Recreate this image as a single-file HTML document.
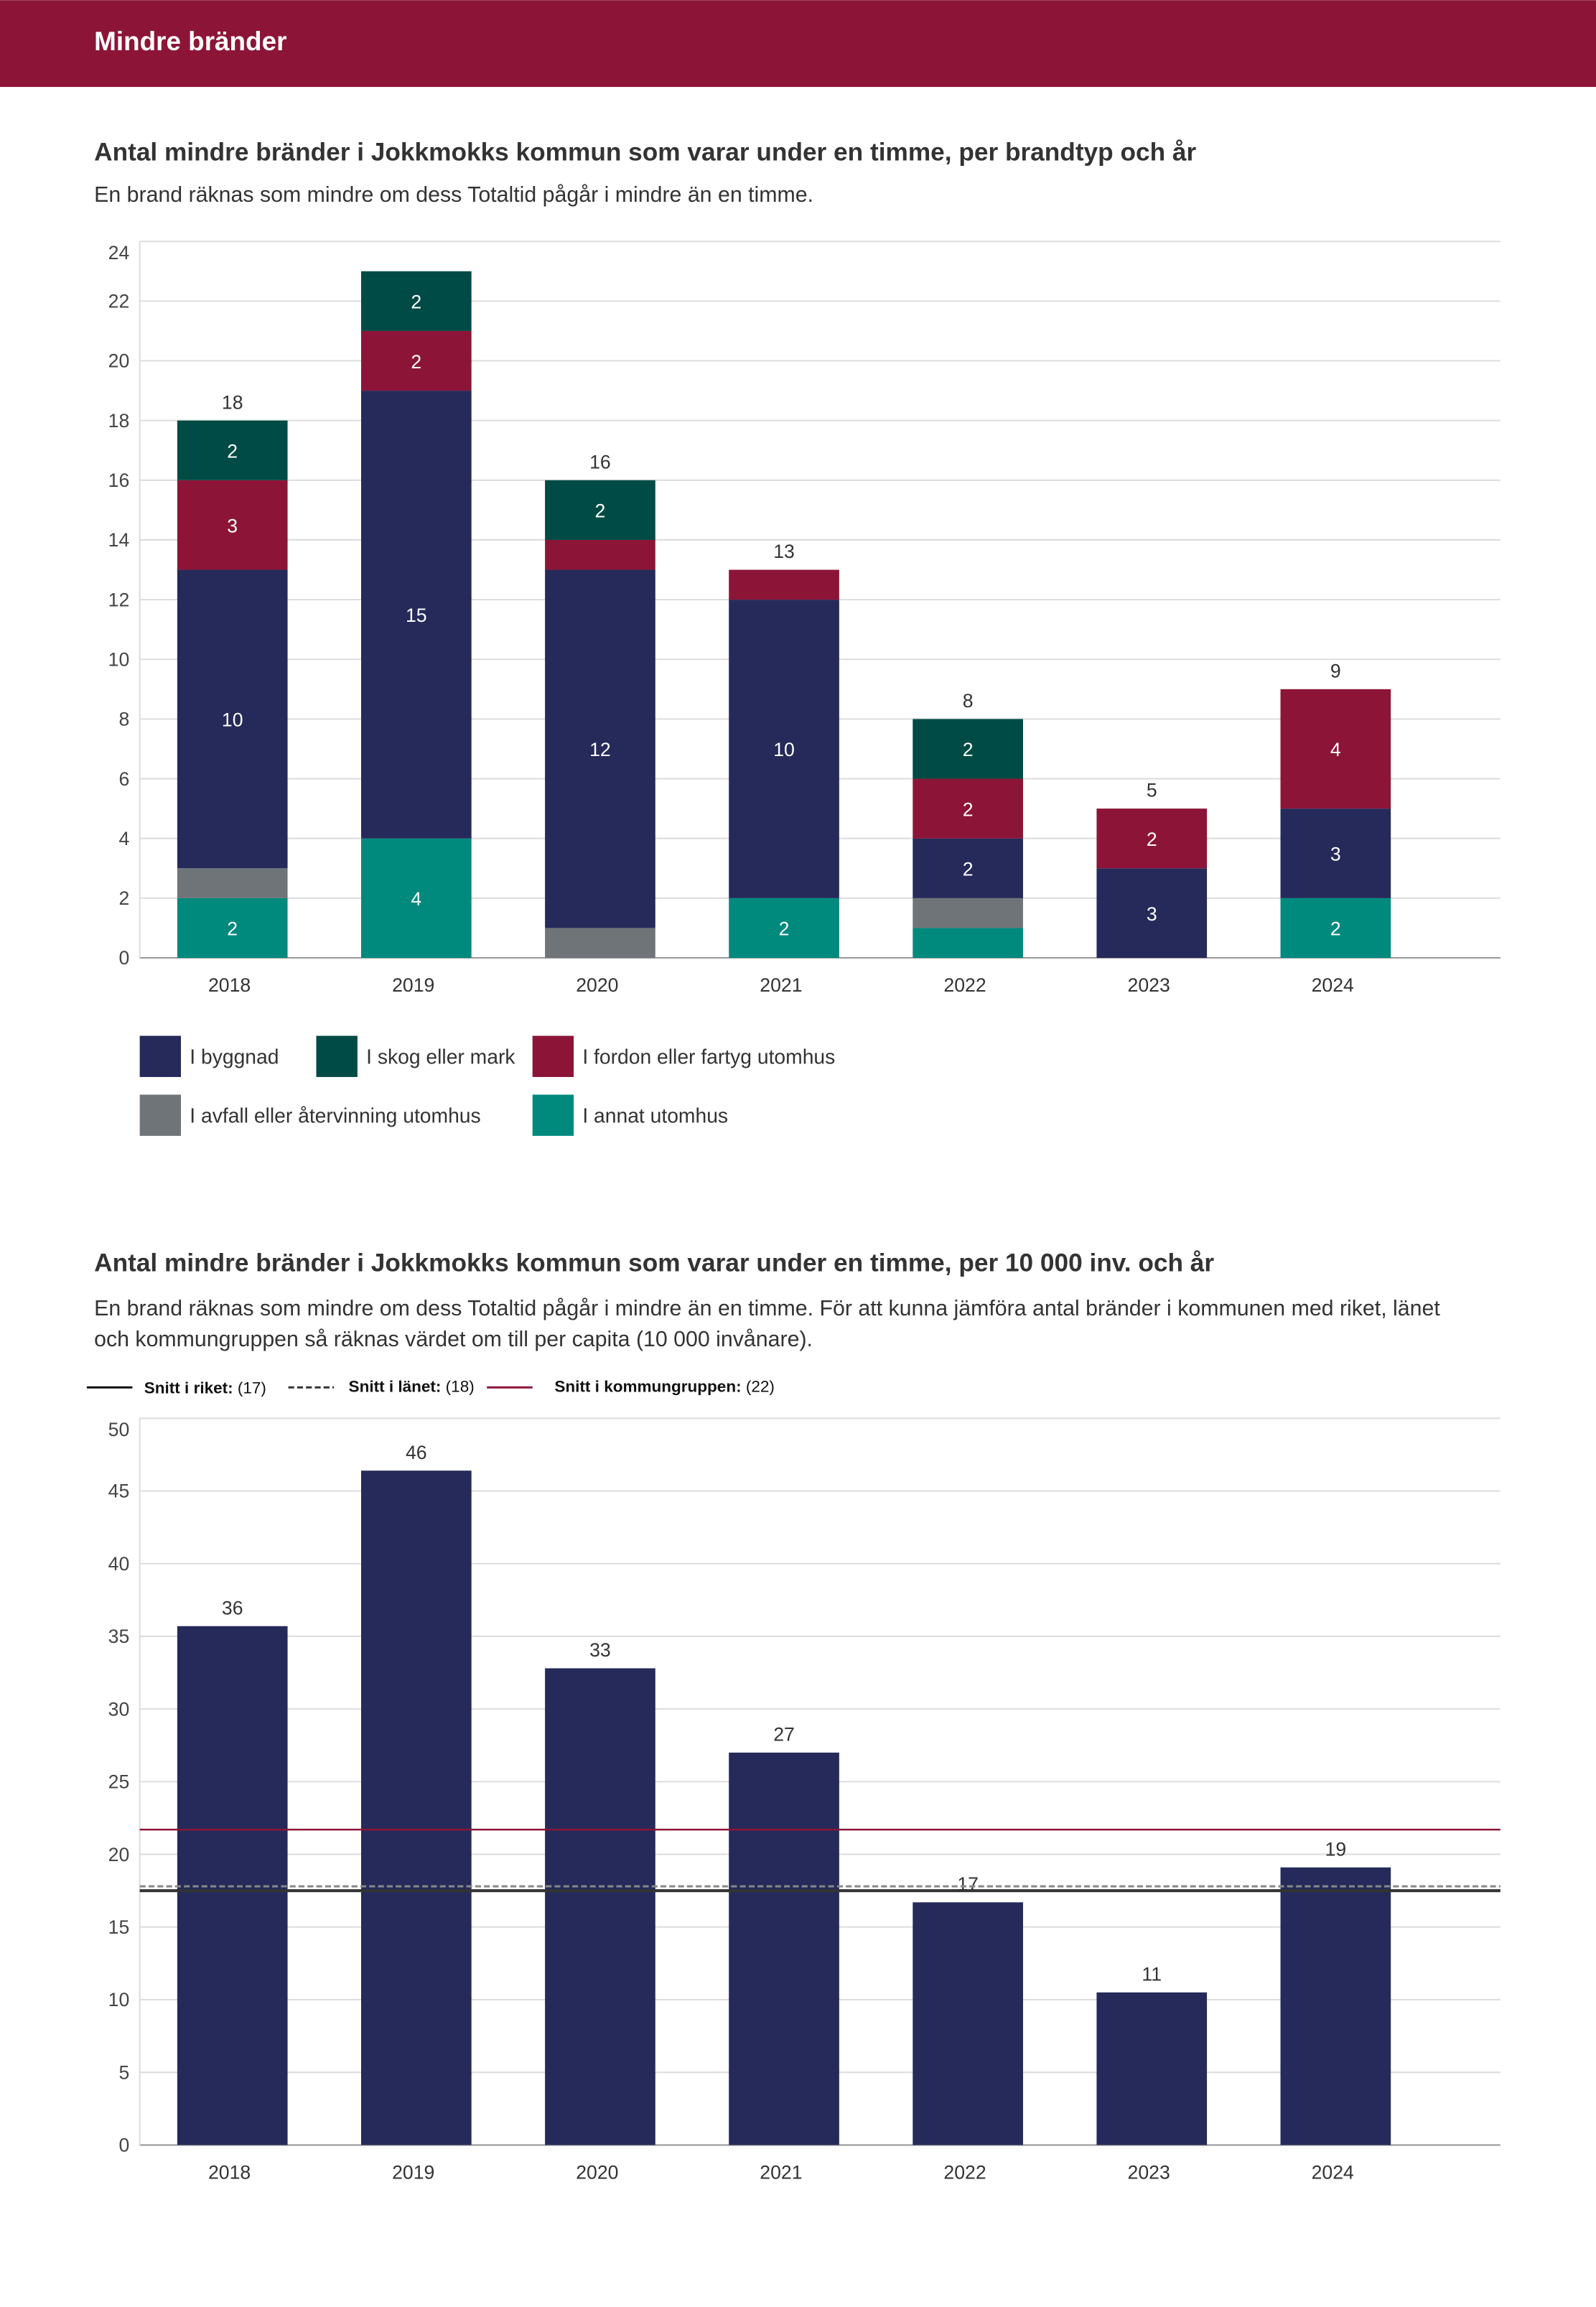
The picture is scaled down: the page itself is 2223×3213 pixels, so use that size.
<!DOCTYPE html>
<html><head><meta charset="utf-8"><style>
html,body{margin:0;padding:0;background:#fff}
svg{display:block;font-family:"Liberation Sans",sans-serif}
</style></head><body>
<svg id="s" width="2223" height="3213" viewBox="0 0 1085 1568" xmlns="http://www.w3.org/2000/svg">
<rect x="0" y="0" width="1085" height="59" fill="#8c1537"/>
<text x="64" y="34" fill="#fff" font-size="18" font-weight="bold">Mindre bränder</text>
<text x="64" y="109" fill="#333" font-size="17.2" font-weight="bold">Antal mindre bränder i Jokkmokks kommun som varar under en timme, per brandtyp och år</text>
<text x="64" y="137" fill="#333" font-size="14.8">En brand räknas som mindre om dess Totaltid pågår i mindre än en timme.</text>
<g id="c1"></g>
<g id="l1">
<rect x="95" y="704" width="28" height="28" fill="#252a5a"/><text x="129" y="723" font-size="13.8" fill="#333">I byggnad</text>
<rect x="215" y="704" width="28" height="28" fill="#004b45"/><text x="249" y="723" font-size="13.8" fill="#333">I skog eller mark</text>
<rect x="362" y="704" width="28" height="28" fill="#8c1537"/><text x="396" y="723" font-size="13.8" fill="#333">I fordon eller fartyg utomhus</text>
<rect x="95" y="744" width="28" height="28" fill="#6f7479"/><text x="129" y="763" font-size="13.8" fill="#333">I avfall eller återvinning utomhus</text>
<rect x="362" y="744" width="28" height="28" fill="#008a7e"/><text x="396" y="763" font-size="13.8" fill="#333">I annat utomhus</text>
</g>
<text x="64" y="864" fill="#333" font-size="17.2" font-weight="bold">Antal mindre bränder i Jokkmokks kommun som varar under en timme, per 10 000 inv. och år</text>
<text x="64" y="894" fill="#333" font-size="14.8">En brand räknas som mindre om dess Totaltid pågår i mindre än en timme. För att kunna jämföra antal bränder i kommunen med riket, länet</text>
<text x="64" y="915" fill="#333" font-size="14.8">och kommungruppen så räknas värdet om till per capita (10 000 invånare).</text>
<g>
<line x1="59" y1="943" x2="90" y2="943" stroke="#111" stroke-width="1.5"/>
<text x="98" y="947" font-size="11" font-weight="bold" fill="#111">Snitt i riket: <tspan font-weight="normal">(17)</tspan></text>
<line x1="196" y1="943" x2="227" y2="943" stroke="#333" stroke-width="1.5" stroke-dasharray="4,2"/>
<text x="237" y="946" font-size="11" font-weight="bold" fill="#111">Snitt i länet: <tspan font-weight="normal">(18)</tspan></text>
<line x1="331" y1="943" x2="362" y2="943" stroke="#8c1537" stroke-width="1.5"/>
<text x="377" y="946" font-size="11" font-weight="bold" fill="#111">Snitt i kommungruppen: <tspan font-weight="normal">(22)</tspan></text>
</g>
<g id="c2"></g>
</svg>
<script>
const years=["2018","2019","2020","2021","2022","2023","2024"];
const annat=[2,4,0,2,1,0,2];
const avfall=[1,0,1,0,1,0,0];
const byggnad=[10,15,12,10,2,3,3];
const fordon=[3,2,1,1,2,2,4];
const skog=[2,2,2,0,2,0,0];
const ticks1=[0,2,4,6,8,10,12,14,16,18,20,22,24];
const perCapita=[35.7,46.4,32.8,27.0,16.7,10.5,19.1];
const ticks2=[0,5,10,15,20,25,30,35,40,45,50];
const riket=17.5, lanet=17.8, kommungrupp=21.7;
const NS="http://www.w3.org/2000/svg";
function mk(p,tag,a){const e=document.createElementNS(NS,tag);for(const k in a)e.setAttribute(k,a[k]);p.appendChild(e);return e;}
const x0=95,x1=1020,bw=75;
const xc=i=>158+i*125;
// chart 1
const c1=document.getElementById('c1');
const y1=v=>651-v*(487/24);
ticks1.forEach((t,k)=>{
 const l=mk(c1,'line',{x1:x0,x2:x1,y1:y1(t),y2:y1(t),stroke:t==0?'#999':'#ddd','stroke-width':1});
 
 
 const off=k==ticks1.length-1?12:4.5;
 const tx=mk(c1,'text',{x:88,y:y1(t)+off,'text-anchor':'end','font-size':13,fill:'#444'});tx.textContent=t;
 
 
});
const ax=mk(c1,'line',{x1:x0,x2:x0,y1:164,y2:651,stroke:'#ddd'});


const series=[[annat,'#008a7e','annat'],[avfall,'#6f7479','avfall'],[byggnad,'#252a5a','byggnad'],[fordon,'#8c1537','fordon'],[skog,'#004b45','skog']];
years.forEach((yr,i)=>{
 let cum=0;
 series.forEach(([arr,col,nm])=>{
  const v=arr[i]; if(!v)return;
  const r=mk(c1,'rect',{x:xc(i)-bw/2,y:y1(cum+v),width:bw,height:y1(cum)-y1(cum+v),fill:col});
  
  
  if(v>=2){const t=mk(c1,'text',{x:xc(i),y:(y1(cum)+y1(cum+v))/2+5,'text-anchor':'middle','font-size':13,fill:'#fff'});t.textContent=v;
   
   }
  cum+=v;
 });
 if(cum<=22){const t=mk(c1,'text',{x:xc(i),y:y1(cum)-8,'text-anchor':'middle','font-size':13,fill:'#333'});t.textContent=cum;
  
  }
 const t=mk(c1,'text',{x:xc(i)-2,y:674,'text-anchor':'middle','font-size':13,fill:'#333'});t.textContent=yr;
 
 
});
// chart 2
const c2=document.getElementById('c2');
const y2=v=>1458-v*(494/50);
ticks2.forEach((t,k)=>{
 const l=mk(c2,'line',{x1:x0,x2:x1,y1:y2(t),y2:y2(t),stroke:t==0?'#999':'#ddd','stroke-width':1});
 
 
 const off=k==ticks2.length-1?12:4.5;
 const tx=mk(c2,'text',{x:88,y:y2(t)+off,'text-anchor':'end','font-size':13,fill:'#444'});tx.textContent=t;
 
 
});
const ax2=mk(c2,'line',{x1:x0,x2:x0,y1:964,y2:1458,stroke:'#ddd'});


years.forEach((yr,i)=>{
 const v=perCapita[i];
 const r=mk(c2,'rect',{x:xc(i)-bw/2,y:y2(v),width:bw,height:y2(0)-y2(v),fill:'#252a5a'});
 
 
 const t=mk(c2,'text',{x:xc(i),y:y2(v)-8,'text-anchor':'middle','font-size':13,fill:'#333'});t.textContent=Math.round(v);
 
 
 const t2=mk(c2,'text',{x:xc(i)-2,y:1481,'text-anchor':'middle','font-size':13,fill:'#333'});t2.textContent=yr;
 
 
});
const lr=mk(c2,'line',{x1:x0,x2:x1,y1:y2(riket),y2:y2(riket),stroke:'#333','stroke-width':2});


const ll=mk(c2,'line',{x1:x0,x2:x1,y1:y2(lanet),y2:y2(lanet),stroke:'#888','stroke-width':1.5,'stroke-dasharray':'4,2'});


const lk=mk(c2,'line',{x1:x0,x2:x1,y1:y2(kommungrupp),y2:y2(kommungrupp),stroke:'#8c1537','stroke-width':1.2});


</script>
</body></html>
